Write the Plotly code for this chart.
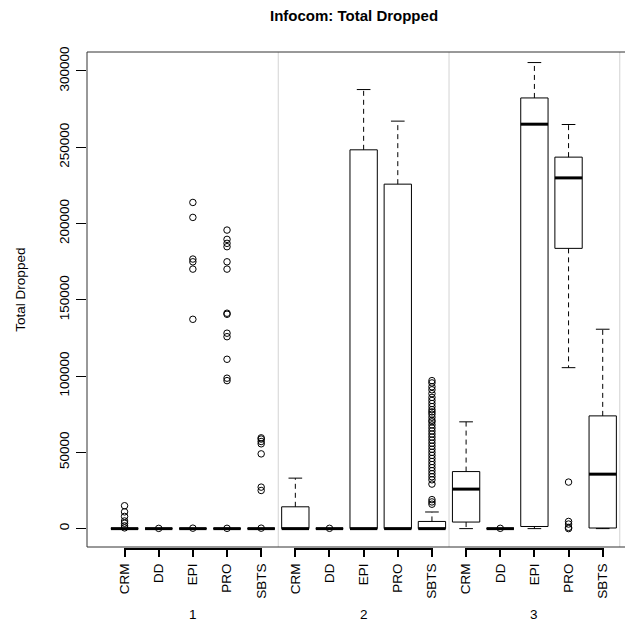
import plotly.graph_objects as go

# ---------------- data ----------------
groups = ["1", "2", "3"]
methods = ["CRM", "DD", "EPI", "PRO", "SBTS"]
positions = list(range(1, 16))
tick_labels = methods * 3
y_ticks = [0, 50000, 100000, 150000, 200000, 250000, 300000]

q1 = [0, 0, 0, 0, 0,
      0, 0, 0, 0, 0,
      4300, 0, 1400, 183700, 400]
median = [0, 0, 0, 0, 0,
          0, 0, 0, 0, 0,
          25900, 0, 265100, 229900, 35700]
q3 = [0, 0, 0, 0, 0,
      14300, 0, 248300, 225800, 4700,
      37400, 0, 282300, 243500, 73900]
lower = [0, 0, 0, 0, 0,
         0, 0, 0, 0, 0,
         0, 0, 0, 105500, 0]
upper = [0, 0, 0, 0, 0,
         33100, 0, 287800, 267100, 10900,
         70000, 0, 305500, 264900, 130700]

out_crm1 = [15000, 11000, 8000, 5000, 3500, 1800, 500]
out_dd1 = [150]
out_epi1 = [213800, 204000, 176700, 174900, 170100, 137200, 300]
out_pro1 = [195700, 189600, 187000, 184800, 174900, 170100, 141200, 140500,
            128100, 125800, 111000, 98600, 97000, 200]
out_sbts1 = [59500, 58700, 57100, 55600, 49000, 27200, 25000, 300]
out_crm2 = []
out_dd2 = [200]
out_epi2 = []
out_pro2 = []
out_sbts2 = [97000, 95500, 93000, 91000, 88500, 86000, 84000, 82000, 80000,
             78000, 76500, 75000, 73000, 71000, 70000, 68000, 66000, 64000,
             62000, 60000, 58000, 56000, 54000, 52000, 50000, 48000, 46000,
             44000, 42000, 40000, 38000, 36000, 34000, 32000, 29200, 19000,
             17500, 16000]
out_crm3 = []
out_dd3 = [200]
out_epi3 = []
out_pro3 = [30500, 4700, 3000, 800, 0]
out_sbts3 = []

outliers = [out_crm1, out_dd1, out_epi1, out_pro1, out_sbts1,
            out_crm2, out_dd2, out_epi2, out_pro2, out_sbts2,
            out_crm3, out_dd3, out_epi3, out_pro3, out_sbts3]

separators = [5.5, 10.5, 15.5]
group_centers = [3, 8, 13]

# ---------------- style ----------------
BOX_HALF = 0.4
CAP_HALF = 0.2
FONT = "Liberation Sans, Arial, sans-serif"

# ---------------- build traces ----------------
bx, by = [], []
mx, my = [], []
wx, wy = [], []
cx, cy = [], []
ox, oy = [], []
for p, a, m, b, lo, hi, outs in zip(positions, q1, median, q3, lower, upper, outliers):
    bx += [p - BOX_HALF, p + BOX_HALF, p + BOX_HALF, p - BOX_HALF, p - BOX_HALF, None]
    by += [a, a, b, b, a, None]
    mx += [p - BOX_HALF, p + BOX_HALF, None]
    my += [m, m, None]
    if hi > b:
        wx += [p, p, None]
        wy += [b, hi, None]
    if lo < a:
        wx += [p, p, None]
        wy += [a, lo, None]
    cx += [p - CAP_HALF, p + CAP_HALF, None, p - CAP_HALF, p + CAP_HALF, None]
    cy += [hi, hi, None, lo, lo, None]
    ox += [p] * len(outs)
    oy += outs

fig = go.Figure()
fig.add_trace(go.Scatter(x=wx, y=wy, mode="lines",
                         line=dict(color="black", width=1, dash="5px,4px"),
                         hoverinfo="skip", showlegend=False))
fig.add_trace(go.Scatter(x=cx, y=cy, mode="lines",
                         line=dict(color="black", width=1),
                         hoverinfo="skip", showlegend=False))
fig.add_trace(go.Scatter(x=bx, y=by, mode="lines",
                         line=dict(color="black", width=1),
                         hoverinfo="skip", showlegend=False))
fig.add_trace(go.Scatter(x=mx, y=my, mode="lines",
                         line=dict(color="black", width=3),
                         hoverinfo="skip", showlegend=False))
fig.add_trace(go.Scatter(x=ox, y=oy, mode="markers",
                         marker=dict(symbol="circle-open", size=6.5, color="black",
                                     line=dict(width=1)),
                         hoverinfo="skip", showlegend=False, cliponaxis=False))

shapes = []
for s in separators:
    shapes.append(dict(type="line", xref="x", yref="paper", x0=s, x1=s, y0=0, y1=1,
                       line=dict(color="#d3d3d3", width=1), layer="below"))
# frame (top, left, bottom); right side lies beyond the visible area
shapes.append(dict(type="line", xref="paper", yref="paper", x0=0, x1=1, y0=1, y1=1,
                   line=dict(color="#333333", width=1)))
shapes.append(dict(type="line", xref="paper", yref="paper", x0=0, x1=1, y0=0, y1=0,
                   line=dict(color="#333333", width=1)))
shapes.append(dict(type="line", xref="paper", yref="paper", x0=0, x1=0, y0=0, y1=1,
                   line=dict(color="#333333", width=1)))
# per-group x axis lines
for g in range(len(groups)):
    p0 = positions[g * len(methods)]
    p1 = positions[g * len(methods) + len(methods) - 1]
    shapes.append(dict(type="line", xref="x", yref="paper", x0=p0, x1=p1,
                       y0=-0.004, y1=-0.004, line=dict(color="black", width=2)))

annotations = [
    dict(text="<b>Infocom: Total Dropped</b>", xref="paper", yref="paper",
         x=0.4895, y=1.074, showarrow=False, font=dict(size=15, family=FONT, color="black"),
         xanchor="center", yanchor="middle"),
    dict(text="Total Dropped", xref="paper", yref="paper", x=-0.1217, y=0.519,
         textangle=-90, showarrow=False, font=dict(size=13.5, family=FONT, color="black"),
         xanchor="center", yanchor="middle"),
]
for gc, g in zip(group_centers, groups):
    annotations.append(dict(text=g, xref="x", yref="paper", x=gc, y=-0.1366,
                            showarrow=False, font=dict(size=13.5, family=FONT, color="black"),
                            xanchor="center", yanchor="middle"))

fig.update_layout(
    width=625, height=619,
    margin=dict(l=78.5, r=0, t=43.7, b=79.7, pad=0),
    paper_bgcolor="white", plot_bgcolor="white",
    font=dict(family=FONT, size=13.5, color="black"),
    shapes=shapes, annotations=annotations,
    xaxis=dict(range=[-0.1, 15.887], tickmode="array", tickvals=positions,
               ticktext=tick_labels, tickangle=-90, ticks="outside", ticklen=9,
               tickwidth=2, tickcolor="black", showline=False, showgrid=False,
               zeroline=False, ticklabelstandoff=1,
               tickfont=dict(size=13.5, family=FONT, color="black")),
    yaxis=dict(range=[-12046, 312420], tickmode="array", tickvals=y_ticks,
               ticktext=[str(v) for v in y_ticks], tickangle=-90, ticks="outside",
               ticklen=10, tickwidth=1, tickcolor="black", showline=False,
               showgrid=False, zeroline=False, ticklabelstandoff=2,
               tickfont=dict(size=13.5, family=FONT, color="black")),
)

fig.write_html("out.html")
